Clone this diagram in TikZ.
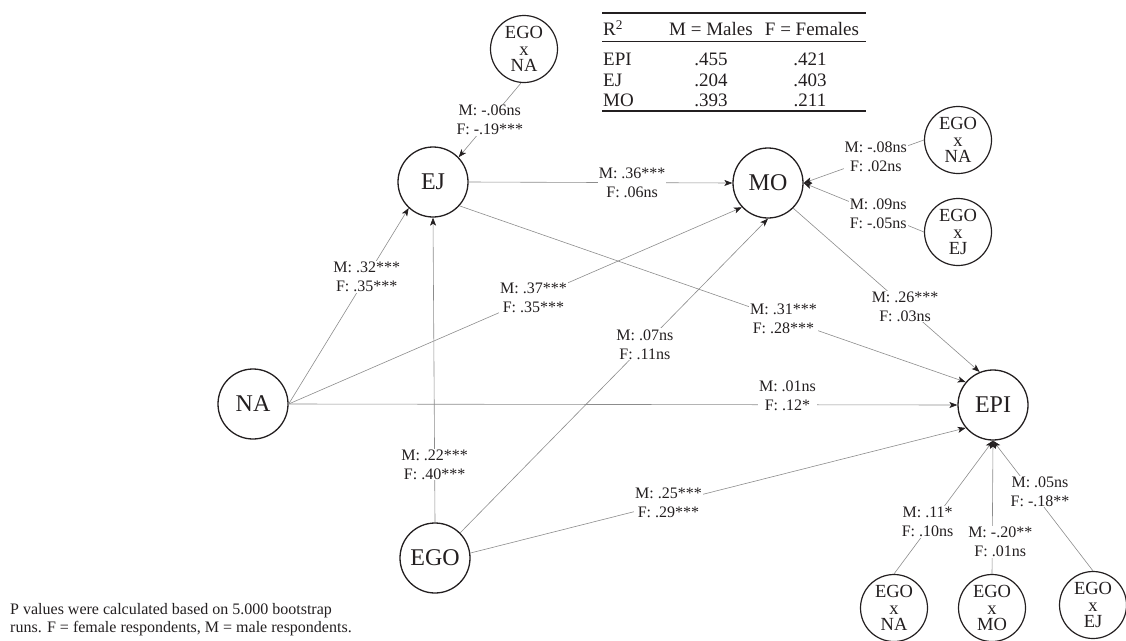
\documentclass[tikz,border=0pt]{standalone}
\usepackage{fontspec}
\setmainfont{Liberation Serif}
\usetikzlibrary{arrows.meta}
\definecolor{txt}{HTML}{231F20}
\definecolor{ln}{HTML}{8C8C8C}
\begin{document}
\begin{tikzpicture}[x=1pt,y=-1pt,
  bigc/.style={circle,draw=txt,line width=1.3pt,minimum size=70pt,inner sep=0pt,font=\fontsize{24}{24}\selectfont,text=txt},
  smc/.style={circle,draw=txt,line width=1.2pt,minimum size=67pt,inner sep=0pt,align=center,font=\fontsize{18.5}{16.5}\selectfont,text=txt},
  conn/.style={draw=ln,line width=0.6pt,-{Stealth[length=8pt,width=6pt,inset=2pt,color=txt]}},
  lab/.style={fill=white,inner sep=1pt,align=center,font=\fontsize{16}{19}\selectfont,text=txt},
  tab/.style={inner sep=0pt,anchor=base,font=\fontsize{19}{21}\selectfont,text=txt},
  rulethick/.style={draw=txt,line width=1.7pt},
  rulethin/.style={draw=txt,line width=0.9pt},
]
\useasboundingbox (0,0) rectangle (1126,640);

% nodes
\node[smc] (xna1) at (524,49) {EGO\\x\\NA};
\node[bigc] (EJ) at (433,182) {EJ};
\node[bigc] (MO) at (768,183) {MO};
\node[bigc] (NA) at (253,404) {NA};
\node[bigc] (EPI) at (993,405) {EPI};
\node[bigc] (EGO) at (435,558) {EGO};
\node[smc] (xna2) at (958,140) {EGO\\x\\NA};
\node[smc] (xej2) at (958,232) {EGO\\x\\EJ};
\node[smc] (xna3) at (894,608) {EGO\\x\\NA};
\node[smc] (xmo3) at (992,608) {EGO\\x\\MO};
\node[smc] (xej3) at (1093,605) {EGO\\x\\EJ};

% connectors
\draw[conn] (xna1.-95) -- node[lab,pos=0.5]{M: -.06ns\\F: -.19***} (EJ.44);
\draw[conn] (EJ.east) -- node[lab,pos=0.62]{M: .36***\\F: .06ns} (MO.west);
\draw[conn] (EJ.-42) -- node[lab,pos=0.64]{M: .31***\\F: .28***} (EPI.140);
\draw[conn] (NA.east) -- node[lab,pos=0.65]{M: .32***\\F: .35***} (EJ.-133);
\draw[conn] (NA.east) -- node[lab,pos=0.54]{M: .37***\\F: .35***} (MO.-137);
\draw[conn] (NA.east) -- node[lab,pos=0.746,yshift=9pt]{M: .01ns\\F: .12*} (EPI.west);
\draw[conn] (EGO.north) -- node[lab,pos=0.19]{M: .22***\\F: .40***} (EJ.south);
\draw[conn] (EGO.45) -- node[lab,pos=0.6]{M: .07ns\\F: .11ns} (MO.south);
\draw[conn] (EGO.8) -- node[lab,pos=0.4]{M: .25***\\F: .29***} (EPI.-140);
\draw[conn] (MO.-45) -- node[lab,pos=0.6]{M: .26***\\F: .03ns} (EPI.112);
\draw[conn] (xna2.west) -- node[lab,pos=0.4]{M: -.08ns\\F: .02ns} (MO.east);
\draw[conn] (xej2.west) -- node[lab,pos=0.38]{M: .09ns\\F: -.05ns} (MO.east);
\draw[conn] (xna3.north) -- node[lab,pos=0.39,xshift=-5pt]{M: .11*\\F: .10ns} (EPI.south);
\draw[conn] (xmo3.north) -- node[lab,pos=0.24,xshift=8pt]{M: -.20**\\F: .01ns} (EPI.south);
\draw[conn] (xej3.north) -- node[lab,pos=0.61,xshift=8pt]{M: .05ns\\F: -.18**} (EPI.south);

% table
\draw[rulethick] (602,13) -- (866,13);
\draw[rulethin] (602,41) -- (866,41);
\draw[rulethick] (602,111) -- (866,111);
\node[tab,anchor=base west] (h0) at (603,35.5) {R\textsuperscript{2}};
\node[tab] (h1) at (711,35.5) {M = Males};
\node[tab] (h2) at (812,35.5) {F = Females};
\node[tab,anchor=base west] (r1) at (603,65.5) {EPI};
\node[tab] (r1m) at (711,65.5) {.455};
\node[tab] (r1f) at (810,65.5) {.421};
\node[tab,anchor=base west] (r2) at (603,86.5) {EJ};
\node[tab] (r2m) at (711,86.5) {.204};
\node[tab] (r2f) at (810,86.5) {.403};
\node[tab,anchor=base west] (r3) at (603,106.5) {MO};
\node[tab] (r3m) at (711,106.5) {.393};
\node[tab] (r3f) at (810,106.5) {.211};

% footnote
\node[anchor=north west,inner sep=0pt,align=left,font=\fontsize{16}{18.5}\selectfont,text=txt] (note) at (10,603)
  {P values were calculated based on 5.000 bootstrap\\runs. F = female respondents, M = male respondents.};
\end{tikzpicture}
\end{document}
